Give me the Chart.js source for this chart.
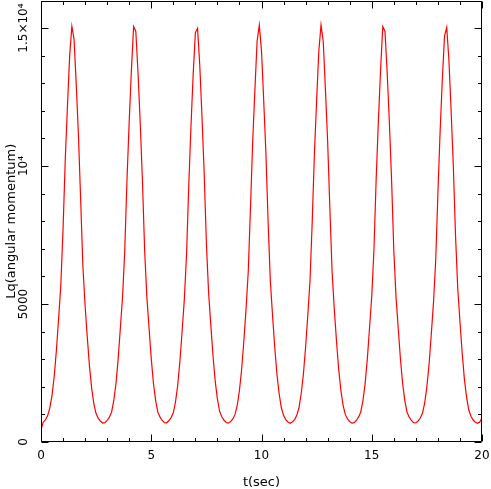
<!DOCTYPE html>
<html>
<head>
<meta charset="utf-8">
<script src="https://cdn.jsdelivr.net/npm/chart.js@4/dist/chart.umd.min.js"></script>
<style>
  html, body { margin: 0; padding: 0; background: #fff; }
  canvas { display: block; }
</style>
</head>
<body>
<canvas id="lq-chart" width="491" height="489"></canvas>
<script>
// sampled every 0.1 s from t = 0 to t = 20
const tStart = 0;
const tStep = 0.1;
const lq = [
  430, 718, 804, 948, 1240, 1686, 2372, 3338, 4482, 5706,
  7720, 10228, 12186, 14002, 15070, 14590, 12934, 11074, 8740, 6362,
  4938, 3786, 2732, 1934, 1368, 1020, 852, 750, 688, 700,
  780, 900, 1080, 1500, 2120, 3020, 4140, 5280, 6970, 9520,
  11610, 13480, 15060, 14880, 13380, 11560, 9480, 6950, 5260, 4130,
  3020, 2120, 1500, 1080, 900, 780, 700, 696, 770, 884,
  1060, 1456, 2058, 2924, 4022, 5166, 6774, 9260, 11428, 13298,
  14830, 14990, 13654, 11802, 9756, 7220, 5422, 4254, 3126, 2204,
  1562, 1120, 916, 788, 706, 684, 740, 836, 1000, 1324,
  1872, 2636, 3668, 4824, 6186, 8480, 10882, 12752, 14524, 15110,
  14176, 12378, 10464, 7970, 5848, 4596, 3444, 2456, 1748, 1240,
  964, 812, 724, 680, 724, 812, 964, 1240, 1748, 2456,
  3444, 4596, 5848, 7970, 10464, 12378, 14176, 15110, 14524, 12752,
  10882, 8480, 6186, 4824, 3668, 2636, 1872, 1324, 1000, 836,
  740, 684, 700, 780, 900, 1080, 1500, 2120, 3020, 4140,
  5280, 6970, 9520, 11610, 13480, 15060, 14880, 13380, 11560, 9480,
  6950, 5260, 4130, 3020, 2120, 1500, 1080, 900, 780, 700,
  692, 760, 868, 1040, 1412, 1996, 2828, 3904, 5052, 6578,
  9000, 11246, 13116, 14710, 15030, 13828, 11994, 9992, 7470, 5564,
  4368, 3232, 2288, 1624, 1160, 932, 796, 712, 677, 720,
  880
];

const xTickValues = [0, 5, 10, 15, 20];
const yTickValues = [0, 5000, 10000, 15000];
const yTickLabels = ['0', '5000', '10\u2074', '1.5\u00d710\u2074'];

const FONT = 'DejaVu Sans';

const points = lq.map((v, i) => ({ x: +(tStart + i * tStep).toFixed(1), y: v }));

// frame with inward ticks on all four sides, plus rotated y labels
const framePlugin = {
  id: 'frame',
  afterDraw(chart) {
    const ctx = chart.ctx;
    const a = chart.chartArea;
    const xs = chart.scales.x, ys = chart.scales.y;
    const L = Math.round(a.left) + 0.5, R = Math.round(a.right) - 0.5;
    const T = Math.round(a.top) + 0.5, B = Math.round(a.bottom) - 0.5;
    ctx.save();
    ctx.strokeStyle = '#000';
    ctx.lineWidth = 1;
    ctx.beginPath();
    ctx.rect(L, T, R - L, B - T);
    // x ticks, minor every 1, major every 5
    for (let v = xs.min; v <= xs.max; v += 1) {
      const px = Math.round(xs.getPixelForValue(v)) + 0.5;
      const len = v % 5 === 0 ? 7 : 3.5;
      ctx.moveTo(px, B); ctx.lineTo(px, B - len);
      ctx.moveTo(px, T); ctx.lineTo(px, T + len);
    }
    // y ticks, minor every 1000, major every 5000
    for (let v = 0; v <= ys.max; v += 1000) {
      const py = Math.round(ys.getPixelForValue(v)) + 0.5;
      const len = v % 5000 === 0 ? 7 : 3.5;
      ctx.moveTo(L, py); ctx.lineTo(L + len, py);
      ctx.moveTo(R, py); ctx.lineTo(R - len, py);
    }
    ctx.stroke();

    ctx.fillStyle = '#000';
    ctx.font = '12px "' + FONT + '"';
    ctx.textAlign = 'center';
    ctx.textBaseline = 'middle';
    yTickValues.forEach((v, i) => {
      const py = ys.getPixelForValue(v);
      ctx.save();
      ctx.translate(24, py);
      ctx.rotate(-Math.PI / 2);
      ctx.fillText(yTickLabels[i], 0, 0);
      ctx.restore();
    });
    ctx.restore();
  }
};

new Chart(document.getElementById('lq-chart').getContext('2d'), {
  type: 'line',
  data: {
    datasets: [{
      label: 'Lq',
      data: points,
      borderColor: '#ff0000',
      borderWidth: 1.2,
      pointRadius: 0,
      tension: 0,
      fill: false
    }]
  },
  options: {
    responsive: false,
    animation: false,
    devicePixelRatio: 1,
    layout: { padding: { top: 0.5, right: 9, bottom: 0, left: 0 } },
    plugins: {
      legend: { display: false },
      tooltip: { enabled: false }
    },
    scales: {
      x: {
        type: 'linear',
        min: 0,
        max: 20,
        afterBuildTicks(scale) {
          scale.ticks = xTickValues.map(v => ({ value: v }));
        },
        afterFit(scale) {
          scale.height = 47;
          scale.paddingLeft = 0;
          scale.paddingRight = 0;
        },
        grid: { display: false, drawTicks: false },
        border: { display: false },
        ticks: {
          color: '#000',
          padding: 7,
          maxRotation: 0,
          font: { family: FONT, size: 12 }
        },
        title: {
          display: true,
          text: 't(sec)',
          color: '#000',
          font: { family: FONT, size: 13, lineHeight: 1 },
          padding: { top: 0, bottom: 0 }
        }
      },
      y: {
        type: 'linear',
        min: 0,
        max: 16000,
        afterFit(scale) {
          scale.width = 41;
          scale.paddingTop = 0;
          scale.paddingBottom = 0;
        },
        grid: { display: false, drawTicks: false },
        border: { display: false },
        ticks: { display: false },
        title: {
          display: true,
          text: 'Lq(angular momentum)',
          color: '#000',
          font: { family: FONT, size: 13, lineHeight: 1 },
          padding: { top: 5, bottom: 0 }
        }
      }
    }
  },
  plugins: [framePlugin]
});
</script>
</body>
</html>
